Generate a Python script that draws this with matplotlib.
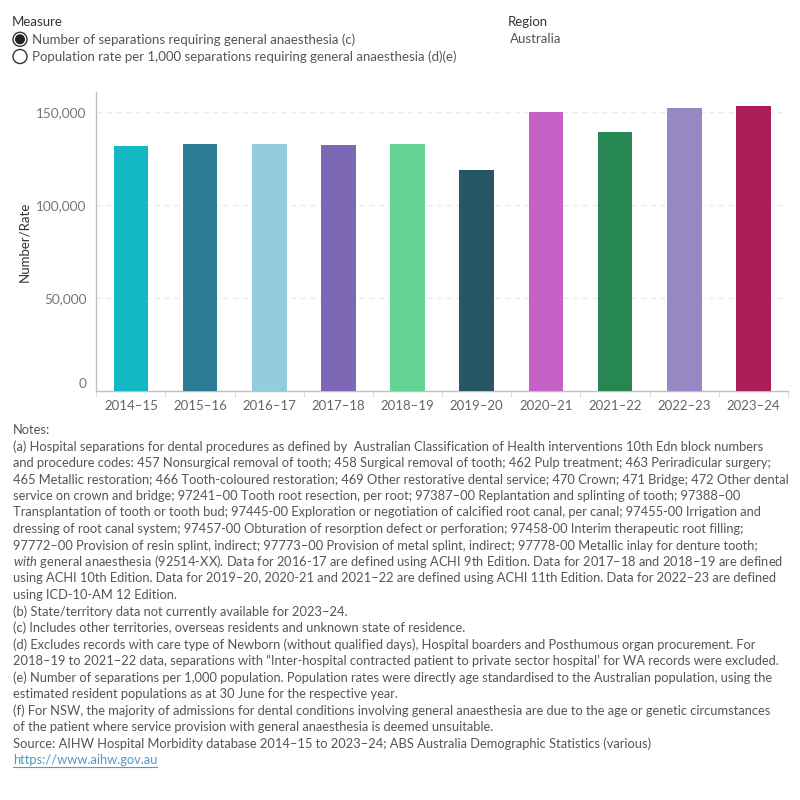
import matplotlib
matplotlib.use("Agg")
import matplotlib.pyplot as plt
from matplotlib.patches import Circle
from matplotlib.lines import Line2D
from matplotlib.transforms import ScaledTranslation

plt.rcParams['font.family'] = ['Lato', 'DejaVu Sans']
plt.rcParams['mathtext.fontset'] = 'custom'
plt.rcParams['mathtext.rm'] = 'Lato'
plt.rcParams['mathtext.it'] = 'Lato:italic'

years = ["2014–15", "2015–16", "2016–17", "2017–18", "2018–19",
         "2019–20", "2020–21", "2021–22", "2022–23", "2023–24"]
separations = [131900, 133000, 133000, 132400, 133000,
               119000, 150200, 139400, 152300, 153400]
colors = ["#14B8C4", "#2C7C96", "#93CCDD", "#7C68B4", "#65D393",
          "#275665", "#C462C5", "#278752", "#9788C4", "#AC1E5A"]
yticks = [0, 50000, 100000, 150000]
ytick_labels = ["0", "50,000", "100,000", "150,000"]

measure_options = ["Number of separations requiring general anaesthesia (c)",
                   "Population rate per 1,000 separations requiring general anaesthesia (d)(e)"]
region = "Australia"

notes = [
    "Notes:",
    "(a) Hospital separations for dental procedures as defined by  Australian Classification of Health interventions 10th Edn block numbers",
    "and procedure codes: 457 Nonsurgical removal of tooth; 458 Surgical removal of tooth; 462 Pulp treatment; 463 Periradicular surgery;",
    "465 Metallic restoration; 466 Tooth-coloured restoration; 469 Other restorative dental service; 470 Crown; 471 Bridge; 472 Other dental",
    "service on crown and bridge; 97241–00 Tooth root resection, per root; 97387–00 Replantation and splinting of tooth; 97388–00",
    "Transplantation of tooth or tooth bud; 97445-00 Exploration or negotiation of calcified root canal, per canal; 97455-00 Irrigation and",
    "dressing of root canal system; 97457-00 Obturation of resorption defect or perforation; 97458-00 Interim therapeutic root filling;",
    "97772–00 Provision of resin splint, indirect; 97773–00 Provision of metal splint, indirect; 97778-00 Metallic inlay for denture tooth;",
    r"$\mathit{with}$ general anaesthesia (92514-XX). Data for 2016-17 are defined using ACHI 9th Edition. Data for 2017–18 and 2018–19 are defined",
    "using ACHI 10th Edition. Data for 2019–20, 2020-21 and 2021–22 are defined using ACHI 11th Edition. Data for 2022–23 are defined",
    "using ICD-10-AM 12 Edition.",
    "(b) State/territory data not currently available for 2023–24.",
    "(c) Includes other territories, overseas residents and unknown state of residence.",
    "(d) Excludes records with care type of Newborn (without qualified days), Hospital boarders and Posthumous organ procurement. For",
    "2018–19 to 2021–22 data, separations with “Inter-hospital contracted patient to private sector hospital’ for WA records were excluded.",
    "(e) Number of separations per 1,000 population. Population rates were directly age standardised to the Australian population, using the",
    "estimated resident populations as at 30 June for the respective year.",
    "(f) For NSW, the majority of admissions for dental conditions involving general anaesthesia are due to the age or genetic circumstances",
    "of the patient where service provision with general anaesthesia is deemed unsuitable.",
    "Source: AIHW Hospital Morbidity database 2014–15 to 2023–24; ABS Australia Demographic Statistics (various)",
]
link = "https://www.aihw.gov.au"

W = H = 800
fig = plt.figure(figsize=(8, 8), dpi=100)

# main chart axes (pixel geometry)
left, right, top, bottom = 96.3, 788, 92, 391.3
ax = fig.add_axes([left / W, 1 - bottom / H, (right - left) / W, (bottom - top) / H])
x = list(range(len(years)))
ax.bar(x, separations, width=0.5, color=colors, zorder=3)
ax.set_xlim(-0.5, len(years) - 0.5)
ax.set_ylim(0, 161000)
ax.set_yticks(yticks)
ax.set_yticklabels(ytick_labels)
ax.set_xticks(x)
ax.set_xticklabels(years)
ax.set_xticks([i - 0.5 for i in range(len(years) + 1)], minor=True)
ax.tick_params(axis='x', which='major', length=0, pad=6, labelsize=9.5, labelcolor='#666666')
ax.tick_params(axis='x', which='minor', length=4, color='#dddddd', width=0.8)
ax.tick_params(axis='y', length=0, pad=7, labelsize=9.8, labelcolor='#777777')
for s in ['top', 'right']:
    ax.spines[s].set_visible(False)
for s in ['left', 'bottom']:
    ax.spines[s].set_color('#c0c0c0')
    ax.spines[s].set_linewidth(1)
for yv in yticks[1:]:
    ax.axhline(yv, color='#ebebeb', lw=1, ls=(0, (4, 3)), zorder=1)
ax.set_ylabel("Number/Rate", fontsize=9.5, color='#333333', labelpad=4)
# zero label nudged up like Tableau
lbl0 = ax.get_yticklabels()[0]
lbl0.set_transform(lbl0.get_transform() + ScaledTranslation(0, 8 / 100, fig.dpi_scale_trans))

# overlay axes in pixel coords
ov = fig.add_axes([0, 0, 1, 1], facecolor='none')
ov.set_xlim(0, W)
ov.set_ylim(H, 0)
ov.axis('off')

ov.text(12, 21.7, "Measure", fontsize=9.5, color='#333333', va='center', ha='left')
ov.text(508, 21.7, "Region", fontsize=9.5, color='#333333', va='center', ha='left')
ov.text(510, 39.3, region, fontsize=9.5, color='#555555', va='center', ha='left')
radio_y = [39.3, 56.5]
for i, (lab, yy) in enumerate(zip(measure_options, radio_y)):
    ov.add_patch(Circle((20, yy), 7, facecolor='white', edgecolor='#333333', lw=1))
    if i == 0:
        ov.add_patch(Circle((20, yy), 5, facecolor='#222222', edgecolor='none'))
    ov.text(32, yy, lab, fontsize=9.5, color='#555555', va='center', ha='left')

for i, line in enumerate(notes):
    ov.text(13, 430 + 16.5 * i, line, fontsize=9.3, color='#555555', va='center', ha='left')
ly = 430 + 16.5 * len(notes)
lt = ov.text(13, ly, link, fontsize=9.3, color='#4E9BC4', va='center', ha='left')

fig.canvas.draw()
bb = lt.get_window_extent().transformed(ov.transData.inverted())
ov.add_line(Line2D([bb.x0, bb.x1], [ly + 7, ly + 7], color='#4E9BC4', lw=0.8))

fig.savefig("out.png", dpi=100)
